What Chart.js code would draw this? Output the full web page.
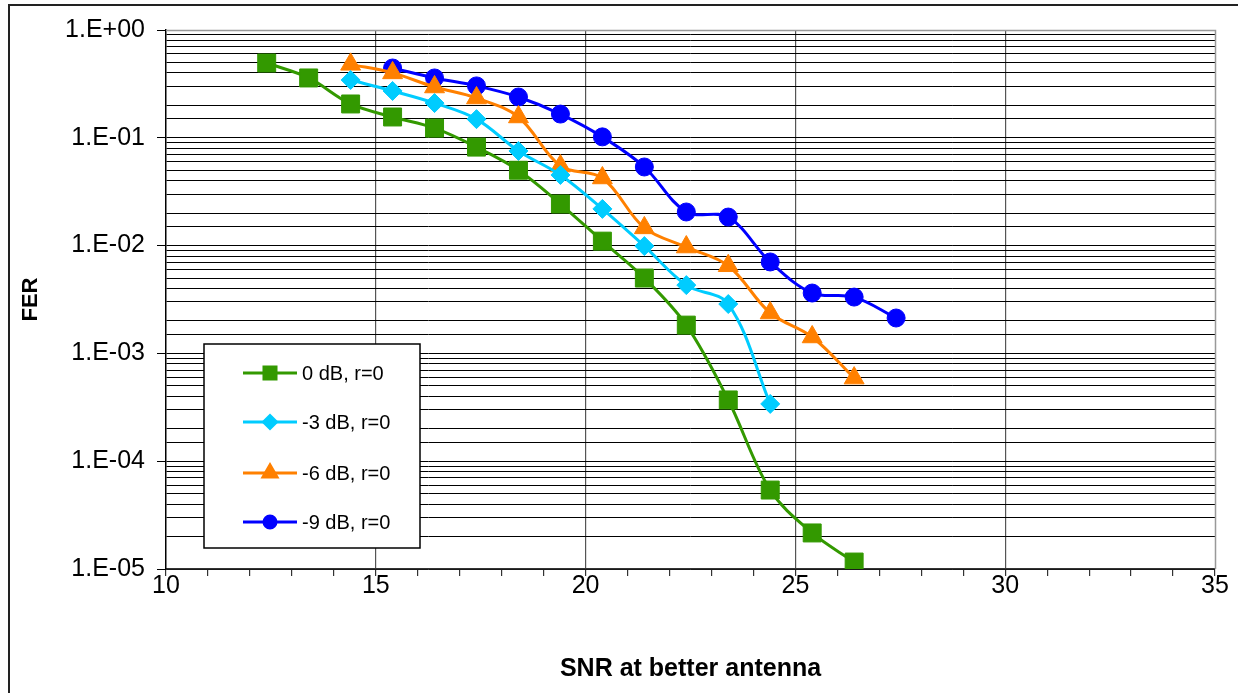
<!DOCTYPE html>
<html>
<head>
<meta charset="utf-8">
<title>FER vs SNR</title>
<script src="https://cdn.jsdelivr.net/npm/chart.js@4.4.1/dist/chart.umd.min.js"></script>
<style>
    body{ margin:0; background:#fff; }
    #wrap{ width:1238px; height:693px; position:relative; }
</style>
</head>
<body>
<div id="wrap"><canvas id="fer_chart" width="1238" height="693"></canvas></div>
<script>
// values
const snr_0dB = [12.4, 13.4, 14.4, 15.4, 16.4, 17.4, 18.4, 19.4, 20.4, 21.4, 22.4, 23.4, 24.4, 25.4, 26.4];
const fer_0dB = [0.494, 0.359, 0.206, 0.156, 0.123, 0.082, 0.050, 0.0243, 0.0110, 0.0050, 0.00183, 0.00037, 0.000054, 0.0000216, 0.0000116];

const snr_3dB = [14.4, 15.4, 16.4, 17.4, 18.4, 19.4, 20.4, 21.4, 22.4, 23.4, 24.4];
const fer_3dB = [0.344, 0.272, 0.210, 0.149, 0.0755, 0.0452, 0.0219, 0.0099, 0.0043, 0.00287, 0.00034];

const snr_6dB = [14.4, 15.4, 16.4, 17.4, 18.4, 19.4, 20.4, 21.4, 22.4, 23.4, 24.4, 25.4, 26.4];
const fer_6dB = [0.48, 0.40, 0.296, 0.234, 0.156, 0.0547, 0.0424, 0.0146, 0.0097, 0.0065, 0.00237, 0.00142, 0.00059];

const snr_9dB = [15.4, 16.4, 17.4, 18.4, 19.4, 20.4, 21.4, 22.4, 23.4, 24.4, 25.4, 26.4, 27.4];
const fer_9dB = [0.444, 0.359, 0.303, 0.239, 0.166, 0.102, 0.0536, 0.0205, 0.0184, 0.00705, 0.00363, 0.00333, 0.00213];

const series_labels = ["0 dB, r=0", "-3 dB, r=0", "-6 dB, r=0", "-9 dB, r=0"];
const x_labels = [10, 15, 20, 25, 30, 35];

const FONT = "'Liberation Sans', Arial, Helvetica, sans-serif";

function toPoints(xs, ys){
    let pts = [];
    for(let i in xs){
        pts.push({x: xs[i], y: ys[i]});
    }
    return pts;
}

function isDecade(v){
    const e = Math.log10(v);
    return Math.abs(e - Math.round(e)) < 1e-6;
}

function makeSeries(label, pts, color, style, radius){
    return {
        label: label,
        data: pts,
        borderColor: color,
        backgroundColor: color,
        borderWidth: 3,
        pointStyle: style,
        pointRadius: radius,
        pointHoverRadius: radius,
        pointBorderWidth: 1,
        pointBorderColor: color,
        pointBackgroundColor: color,
        tension: 0.35,
        fill: false
    };
}

// frame, plot border and legend box
const framePlugin = {
    id: "frame",
    beforeDatasetsDraw(chart){
        const ctx = chart.ctx;
        const a = chart.chartArea;
        ctx.save();
        ctx.strokeStyle = "#999";
        ctx.lineWidth = 1.5;
        ctx.beginPath();
        ctx.moveTo(a.left, a.top + 0.5);
        ctx.lineTo(a.right + 0.5, a.top + 0.5);
        ctx.lineTo(a.right + 0.5, a.bottom);
        ctx.stroke();
        ctx.restore();
    },
    afterDraw(chart){
        const ctx = chart.ctx;
        ctx.save();

        // outer chart border (only top and left show)
        ctx.strokeStyle = "#222";
        ctx.lineWidth = 2;
        ctx.beginPath();
        ctx.moveTo(9, 693);
        ctx.lineTo(9, 5);
        ctx.lineTo(1238, 5);
        ctx.stroke();

        // legend
        const box = {x: 204, y: 344, w: 216, h: 204};
        ctx.fillStyle = "#fff";
        ctx.fillRect(box.x, box.y, box.w, box.h);
        ctx.strokeStyle = "#000";
        ctx.lineWidth = 1.5;
        ctx.strokeRect(box.x, box.y, box.w, box.h);

        const rows = [373, 422, 473, 522];
        const legend_radius = [8.5, 6.5, 8, 6];
        const sets = chart.data.datasets;
        for(let i in sets){
            const ds = sets[i];
            const y = rows[i];
            ctx.strokeStyle = ds.borderColor;
            ctx.lineWidth = 3;
            ctx.beginPath();
            ctx.moveTo(243, y);
            ctx.lineTo(297, y);
            ctx.stroke();

            ctx.fillStyle = ds.backgroundColor;
            Chart.helpers.drawPoint(ctx, {
                pointStyle: ds.pointStyle,
                radius: legend_radius[i],
                rotation: 0,
                borderWidth: 1
            }, 270, y);
            ctx.fill();

            ctx.fillStyle = "#000";
            ctx.font = "20px " + FONT;
            ctx.textAlign = "left";
            ctx.textBaseline = "middle";
            ctx.fillText(ds.label, 302, y + 1);
        }
        ctx.restore();
    }
};

const canvas = document.getElementById("fer_chart");

new Chart(canvas.getContext("2d"), {
    type: "line",
    data: {
        datasets: [
            makeSeries(series_labels[0], toPoints(snr_0dB, fer_0dB), "#339900", "rect", 12.7),
            makeSeries(series_labels[1], toPoints(snr_3dB, fer_3dB), "#00CCFF", "rectRot", 9.5),
            makeSeries(series_labels[2], toPoints(snr_6dB, fer_6dB), "#FF8000", "triangle", 11.5),
            makeSeries(series_labels[3], toPoints(snr_9dB, fer_9dB), "#0000FF", "circle", 9)
        ]
    },
    options: {
        responsive: false,
        animation: false,
        layout: { padding: { top: 30, right: 23, left: 0, bottom: 0 } },
        plugins: {
            legend: { display: false },
            tooltip: { enabled: false }
        },
        scales: {
            x: {
                type: "linear",
                min: 10,
                max: 35,
                afterFit: function(scale){ scale.height = 124; },
                border: { display: true, color: "#333", width: 1.5 },
                grid: {
                    color: function(c){
                        const v = c.tick ? c.tick.value : 0;
                        return (v % 5 === 0 && v > 10 && v < 35) ? "#555" : "rgba(0,0,0,0)";
                    },
                    tickColor: "#333",
                    tickLength: 7,
                    lineWidth: 1.2
                },
                ticks: {
                    stepSize: 1,
                    autoSkip: false,
                    maxRotation: 0,
                    padding: -5,
                    color: "#000",
                    font: { family: FONT, size: 25 },
                    callback: function(v){ return x_labels.indexOf(v) >= 0 ? String(v) : ""; }
                },
                title: {
                    display: true,
                    text: "SNR at better antenna",
                    color: "#000",
                    font: { family: FONT, size: 25, weight: "bold" },
                    padding: { top: 0, bottom: 9 }
                }
            },
            y: {
                type: "logarithmic",
                min: 1e-5,
                max: 1,
                afterFit: function(scale){ scale.width = 166; },
                border: { display: true, color: "#000", width: 1.5 },
                grid: {
                    color: "#000",
                    lineWidth: 1,
                    tickLength: 9,
                    tickColor: function(c){
                        return (c.tick && isDecade(c.tick.value)) ? "#000" : "rgba(0,0,0,0)";
                    }
                },
                ticks: {
                    autoSkip: false,
                    padding: 12,
                    color: "#000",
                    font: { family: FONT, size: 25 },
                    callback: function(v){
                        if(!isDecade(v)) return "";
                        const e = Math.round(Math.log10(v));
                        const sign = e < 0 ? "-" : "+";
                        const abs = Math.abs(e);
                        return "1.E" + sign + (abs < 10 ? "0" : "") + abs;
                    }
                },
                title: {
                    display: true,
                    text: "FER",
                    color: "#000",
                    font: { family: FONT, size: 22, weight: "bold" },
                    padding: { top: 18, bottom: 0 }
                }
            }
        }
    },
    plugins: [framePlugin]
});
</script>
</body>
</html>
